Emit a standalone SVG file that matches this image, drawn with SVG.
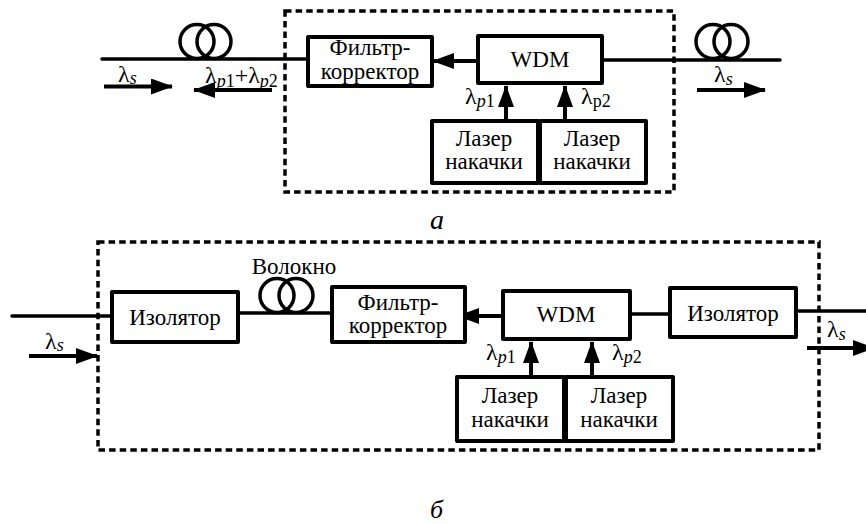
<svg xmlns="http://www.w3.org/2000/svg" width="866" height="524" viewBox="0 0 866 524">
<style>
text{font-family:"Liberation Serif","Times New Roman",serif;font-size:23px;fill:#000}
.c{text-anchor:middle}
.l{font-size:24px}
.s{font-size:18px}
.i{font-style:italic}
.cap{font-size:28px;font-style:italic}
.cap2{font-size:26px;font-style:italic}
.b{fill:#fff;stroke:#000;stroke-width:4;stroke-linejoin:round}
.w{fill:none;stroke:#000;stroke-width:3.5;stroke-linecap:round}
.a{fill:none;stroke:#000;stroke-width:4;marker-end:url(#h)}
.d{fill:none;stroke:#000;stroke-width:3.5;stroke-dasharray:6.500 4.100}
.coil{fill:none;stroke:#000;stroke-width:3.5}
</style>
<defs>
<marker id="h" markerUnits="userSpaceOnUse" markerWidth="22" markerHeight="16" refX="21" refY="8" orient="auto"><path d="M0 0L22 8L0 16Z" fill="#000"/></marker>
</defs>
<g id="frames">
<rect class="d" x="285" y="11" width="389" height="181"/>
<rect class="d" x="98" y="242" width="721" height="208"/>
</g>
<g id="connectors">
<path class="w" d="M102 59H308"/>
<path class="w" d="M602 60H780"/>
<path class="a" d="M478 61H433"/>
<path class="a" d="M506 121V86"/>
<path class="a" d="M565 121V86"/>
<path class="a" d="M104 86.500H172"/>
<path class="a" d="M272 90H194"/>
<path class="a" d="M697 90H765"/>
<path class="w" d="M12 316H112"/>
<path class="w" d="M238 313H331"/>
<path class="a" d="M503 316H458"/>
<path class="w" d="M630 314H670"/>
<path class="w" d="M796 311H866"/>
<path class="a" d="M531 377V342"/>
<path class="a" d="M592 377V342"/>
<path class="a" d="M29 356H97"/>
<path class="a" d="M807 348H874"/>
</g>
<g id="coil-a1"><circle class="coil" cx="197" cy="41.500" r="17"/><circle class="coil" cx="214" cy="41.500" r="17"/></g>
<g id="coil-a2"><circle class="coil" cx="713" cy="41.500" r="17"/><circle class="coil" cx="731" cy="41.500" r="17"/></g>
<g id="filter-a"><rect class="b" x="308" y="37" width="124" height="49"/><text class="c" x="370" y="55">Фильтр-</text><text class="c" x="370" y="79">корректор</text></g>
<g id="wdm-a"><rect class="b" x="478" y="36" width="124" height="47"/><text class="c" x="540" y="67">WDM</text></g>
<g id="laser-a1"><rect class="b" x="432" y="121" width="106" height="62"/><text class="c" x="484" y="146">Лазер</text><text class="c" x="484" y="169">накачки</text></g>
<g id="laser-a2"><rect class="b" x="540" y="121" width="106" height="62"/><text class="c" x="592" y="146">Лазер</text><text class="c" x="592" y="169">накачки</text></g>
<g id="isolator-b1"><rect class="b" x="112" y="292" width="126" height="50"/><text class="c" x="175" y="325">Изолятор</text></g>
<g id="coil-b"><circle class="coil" cx="277" cy="295.500" r="17"/><circle class="coil" cx="296" cy="295.500" r="17"/><text class="c" x="294" y="274">Волокно</text></g>
<g id="filter-b"><rect class="b" x="332" y="287" width="133" height="55"/><text class="c" x="398" y="310">Фильтр-</text><text class="c" x="398" y="333">корректор</text></g>
<g id="wdm-b"><rect class="b" x="503" y="291" width="127" height="48"/><text class="c" x="566" y="322">WDM</text></g>
<g id="isolator-b2"><rect class="b" x="670" y="288" width="126" height="49"/><text class="c" x="733" y="321">Изолятор</text></g>
<g id="laser-b1"><rect class="b" x="457" y="377" width="107" height="64"/><text class="c" x="510" y="403">Лазер</text><text class="c" x="510" y="427">накачки</text></g>
<g id="laser-b2"><rect class="b" x="566" y="377" width="107" height="64"/><text class="c" x="619" y="403">Лазер</text><text class="c" x="619" y="427">накачки</text></g>
<g id="labels">
<text x="118" y="82" class="l">λ<tspan class="s i" dy="2">s</tspan></text>
<text x="205" y="83" class="l">λ<tspan class="s i" dy="4">p</tspan><tspan class="s">1</tspan><tspan dy="-4">+λ</tspan><tspan class="s i" dy="4">p</tspan><tspan class="s">2</tspan></text>
<text x="465" y="104" class="l">λ<tspan class="s i" dy="3">p</tspan><tspan class="s">1</tspan></text>
<text x="581" y="104" class="l">λ<tspan class="s" dy="3">p2</tspan></text>
<text x="714" y="82" class="l">λ<tspan class="s i" dy="3">s</tspan></text>
<text x="45" y="349" class="l">λ<tspan class="s i" dy="2">s</tspan></text>
<text x="827" y="337" class="l">λ<tspan class="s i" dy="3">s</tspan></text>
<text x="486" y="360" class="l">λ<tspan class="s i" dy="3">p</tspan><tspan class="s">1</tspan></text>
<text x="612" y="360" class="l">λ<tspan class="s i" dy="3">p</tspan><tspan class="s">2</tspan></text>
<text x="430" y="229" class="cap">а</text>
<text x="430" y="518" class="cap2">б</text>
</g>
</svg>
